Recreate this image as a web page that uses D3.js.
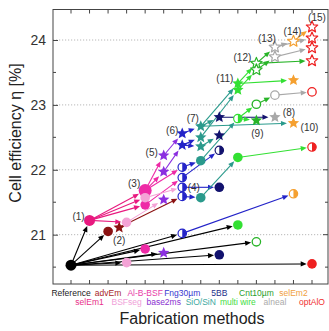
<!DOCTYPE html>
<html><head><meta charset="utf-8">
<script src="https://cdn.jsdelivr.net/npm/d3@7"></script>
<style>body{margin:0;background:#fff}svg{display:block}</style>
</head><body><script>
// Process steps along the x axis
const categories = ["Reference","selEm1","advEm","BSFseg","Al-B-BSF","base2ms","Fng30µm",
  "SiO/SiN","5BB","multi wire","Cnt10µm","alneal","selEm2","optAlO"];
const markColors = ["#000000","#e8197f","#8b1212","#f4a3d6","#ee2aa6","#8b2fe0","#2323c8",
  "#2a9a8c","#12126e","#33e033","#28b428","#a8a8a8","#f5a030","#ee2020"];
const labelColors = ["#222222","#e8308a","#a82828","#f0a0d8","#e83ca8","#8a30d0","#3838d0",
  "#40a8a0","#23308a","#44dd44","#2aa02a","#aaaaaa","#f0a040","#f03030"];
const yTicks = [21, 22, 23, 24];

// Simulated cells: [step position, efficiency %, marker, colour index]
// marker: o filled circle, O large filled circle, c open circle, h half circle, s filled star, S open star
const cells = [
  [0, 20.53, "o", 0],   // 0 reference
  [1, 21.22, "o", 1],   // 1
  [2, 21.05, "o", 2],   // 2
  [2.6, 21.11, "s", 2], // 3
  [3, 20.57, "o", 3],   // 4
  [3, 21.19, "o", 3],   // 5
  [4, 20.78, "o", 4],   // 6
  [4, 21.68, "O", 4],   // 7
  [4, 21.46, "o", 4],   // 8
  [4, 21.57, "o", 3],   // 9
  [5, 20.72, "s", 5],   // 10
  [5, 22.22, "s", 5],   // 11
  [5, 21.97, "s", 5],   // 12
  [5, 21.54, "s", 5],   // 13
  [6, 21.02, "h", 6],   // 14
  [6, 22.04, "h", 6],   // 15
  [6, 21.88, "h", 6],   // 16
  [6, 21.73, "h", 6],   // 17
  [6, 21.59, "h", 6],   // 18
  [6, 22.56, "s", 6],   // 19
  [6, 22.38, "s", 6],   // 20
  [7, 22.67, "s", 7],   // 21
  [7, 22.50, "s", 7],   // 22
  [7, 22.36, "s", 7],   // 23
  [7, 22.14, "o", 7],   // 24
  [7, 21.57, "o", 7],   // 25
  [8, 20.69, "o", 8],   // 26
  [8, 22.81, "s", 8],   // 27
  [8, 22.53, "s", 8],   // 28
  [8, 22.30, "h", 8],   // 29
  [8, 21.73, "o", 8],   // 30
  [9, 21.15, "o", 9],   // 31
  [9, 22.19, "o", 9],   // 32
  [9, 22.79, "h", 9],   // 33
  [9, 23.33, "s", 9],   // 34
  [9, 23.23, "s", 9],   // 35
  [10, 20.89, "c", 10], // 36
  [10, 23.01, "c", 10], // 37
  [10, 22.76, "s", 10], // 38
  [10, 23.64, "S", 10], // 39
  [10, 23.54, "S", 10], // 40
  [11, 23.15, "c", 11], // 41
  [11, 22.81, "s", 11], // 42
  [11, 23.89, "S", 11], // 43
  [11, 23.74, "S", 11], // 44
  [12, 21.63, "h", 12], // 45
  [12, 22.72, "s", 12], // 46
  [12, 23.38, "s", 12], // 47
  [12, 23.98, "S", 12], // 48
  [13, 20.55, "o", 13], // 49
  [13, 22.35, "h", 13], // 50
  [13, 23.20, "c", 13], // 51
  [13, 24.20, "S", 13], // 52
  [13, 24.03, "S", 13], // 53
  [13, 23.88, "S", 13], // 54
  [13, 23.68, "S", 13]  // 55
];

// Process additions: [from cell, to cell]
const steps = [
  [0,1],[0,2],[0,4],[0,6],[0,10],[0,14],[0,26],[0,31],[0,36],[0,49],
  [1,5],[1,7],[1,8],[1,9],[2,3],[3,18],[5,13],
  [7,11],[7,12],[7,15],[8,16],[9,17],[11,19],[12,20],
  [14,45],[15,24],[16,29],[17,30],[18,25],
  [19,21],[20,22],[20,23],[21,34],[21,46],[21,27],[22,35],[23,28],
  [24,33],[25,32],[27,42],[32,50],[33,37],[33,38],
  [34,39],[34,47],[35,40],[37,41],[39,43],[39,55],[40,44],[41,51],
  [43,48],[43,53],[44,54],[48,52]
];

// Numbered optimisation sequence
const seqLabels = [
  [1,"(1)"],[3,"(2)"],[7,"(3)"],[25,"(4)"],[11,"(5)"],[19,"(6)"],[21,"(7)"],
  [42,"(8)"],[38,"(9)"],[46,"(10)"],[34,"(11)"],[39,"(12)"],[43,"(13)"],[48,"(14)"],[52,"(15)"]
];

const W = 329, H = 331;
const pLeft = 53, pRight = 328, pTop = 9.5, pBottom = 284;
const x = d3.scaleLinear().domain([0, 13]).range([71, 312]);
const y = d3.scaleLinear().domain([20.24, 24.47]).range([pBottom, pTop]);

const svg = d3.select("body").append("svg").attr("width", W).attr("height", H)
  .style("font-family", "'Liberation Sans', Arial, sans-serif");

// grid
svg.append("g").selectAll("line").data(yTicks).join("line")
  .attr("x1", pLeft).attr("x2", pRight)
  .attr("y1", d => y(d)).attr("y2", d => y(d))
  .attr("stroke", "#b8b8b8").attr("stroke-width", 1).attr("stroke-dasharray", "1.2,1.8");

// frame with inward ticks on all four sides
svg.append("rect").attr("x", pLeft).attr("y", pTop).attr("width", pRight - pLeft).attr("height", pBottom - pTop)
  .attr("fill", "none").attr("stroke", "#444").attr("stroke-width", 1);

const yAxisL = d3.axisLeft(y).tickValues(yTicks).tickSize(-5).tickPadding(7).tickFormat(d3.format("d"));
const gL = svg.append("g").attr("transform", `translate(${pLeft},0)`).call(yAxisL);
gL.select(".domain").remove();
gL.selectAll("line").attr("stroke", "#444");
gL.selectAll("text").attr("font-size", 14).attr("fill", "#333").attr("font-family", "'Liberation Sans', Arial, sans-serif");

const minor = [20.5, 21.5, 22.5, 23.5];
svg.append("g").selectAll("line").data(minor).join("line")
  .attr("x1", pLeft).attr("x2", pLeft + 3).attr("y1", d => y(d)).attr("y2", d => y(d)).attr("stroke", "#444");
svg.append("g").selectAll("line").data(yTicks).join("line")
  .attr("x1", pRight).attr("x2", pRight - 5).attr("y1", d => y(d)).attr("y2", d => y(d)).attr("stroke", "#444");
svg.append("g").selectAll("line").data(minor).join("line")
  .attr("x1", pRight).attr("x2", pRight - 3).attr("y1", d => y(d)).attr("y2", d => y(d)).attr("stroke", "#444");

const idx = d3.range(categories.length);
svg.append("g").selectAll("line").data(idx).join("line")
  .attr("x1", d => x(d)).attr("x2", d => x(d)).attr("y1", pBottom).attr("y2", pBottom - 4).attr("stroke", "#444");
svg.append("g").selectAll("line").data(idx).join("line")
  .attr("x1", d => x(d)).attr("x2", d => x(d)).attr("y1", pTop).attr("y2", pTop + 4).attr("stroke", "#444");

// category labels in two staggered rows
svg.append("g").selectAll("text").data(idx).join("text")
  .attr("x", d => x(d)).attr("y", d => d % 2 === 0 ? 296 : 305)
  .attr("text-anchor", "middle").attr("font-size", 8.5)
  .attr("fill", d => labelColors[d]).text(d => categories[d]);

// axis titles
svg.append("text").attr("x", 192).attr("y", 324).attr("text-anchor", "middle")
  .attr("font-size", 16).attr("fill", "#222").text("Fabrication methods");
svg.append("text").attr("transform", "translate(21,133) rotate(-90)").attr("text-anchor", "middle")
  .attr("font-size", 16).attr("fill", "#222").text("Cell efficiency η [%]");

const px = c => x(c[0]), py = c => y(c[1]);
const radius = c => c[2] === "O" ? 6.5 : (c[2] === "s" || c[2] === "S") ? 6 : (c === cells[0] || c === cells[1]) ? 5.5 : 4.8;

// arrows coloured by the starting cell
const ag = svg.append("g");
steps.forEach(([a, b]) => {
  const s = cells[a], t = cells[b];
  const x0 = px(s), y0 = py(s), x1 = px(t), y1 = py(t);
  const dx = x1 - x0, dy = y1 - y0, L = Math.hypot(dx, dy);
  const ux = dx / L, uy = dy / L;
  const gap = radius(t) + 0.5, head = 6, hw = 2.6;
  const tipX = x1 - ux * gap, tipY = y1 - uy * gap;
  const baseX = tipX - ux * head, baseY = tipY - uy * head;
  const col = markColors[s[3]];
  ag.append("line").attr("x1", x0).attr("y1", y0).attr("x2", baseX + ux).attr("y2", baseY + uy)
    .attr("stroke", col).attr("stroke-width", 1.1);
  ag.append("path")
    .attr("d", `M${tipX},${tipY}L${baseX - uy * hw},${baseY + ux * hw}L${baseX + uy * hw},${baseY - ux * hw}Z`)
    .attr("fill", col);
});

function starPath(cx, cy, R) {
  const r = R * 0.45, pts = [];
  for (let i = 0; i < 10; i++) {
    const ang = -Math.PI / 2 + i * Math.PI / 5, rr = i % 2 ? r : R;
    pts.push([cx + rr * Math.cos(ang), cy + rr * Math.sin(ang)]);
  }
  return "M" + pts.map(p => p.join(",")).join("L") + "Z";
}

// markers
const mg = svg.append("g");
cells.forEach(c => {
  const cx = px(c), cy = py(c), col = markColors[c[3]], r = radius(c);
  if (c[2] === "o" || c[2] === "O") {
    mg.append("circle").attr("cx", cx).attr("cy", cy).attr("r", r).attr("fill", col);
  } else if (c[2] === "c") {
    mg.append("circle").attr("cx", cx).attr("cy", cy).attr("r", r - 0.6).attr("fill", "#fff")
      .attr("stroke", col).attr("stroke-width", 1.3);
  } else if (c[2] === "h") {
    mg.append("circle").attr("cx", cx).attr("cy", cy).attr("r", r - 0.6).attr("fill", "#fff")
      .attr("stroke", col).attr("stroke-width", 1.2);
    mg.append("path").attr("d", `M${cx},${cy - r + 0.6}A${r - 0.6},${r - 0.6} 0 0 1 ${cx},${cy + r - 0.6}Z`)
      .attr("fill", col);
  } else if (c[2] === "s") {
    mg.append("path").attr("d", starPath(cx, cy, r)).attr("fill", col);
  } else {
    mg.append("path").attr("d", starPath(cx, cy, r)).attr("fill", "#fff")
      .attr("stroke", col).attr("stroke-width", 1.2).attr("stroke-linejoin", "round");
  }
});

// sequence numbers next to their cells
const labelShift = {
  "(1)": [-11, -4], "(2)": [0, 13], "(3)": [-11, -7], "(4)": [-7, -10], "(5)": [-12, -3],
  "(6)": [-10, -3], "(7)": [-8, -8], "(8)": [14, -5], "(9)": [1, 13], "(10)": [16, 4],
  "(11)": [-13, -5], "(12)": [-14, -6], "(13)": [-8, -9], "(14)": [-1, -10], "(15)": [5, -10]
};
svg.append("g").selectAll("text").data(seqLabels).join("text")
  .attr("x", d => px(cells[d[0]]) + labelShift[d[1]][0])
  .attr("y", d => py(cells[d[0]]) + labelShift[d[1]][1])
  .attr("text-anchor", "middle").attr("dominant-baseline", "central")
  .attr("font-size", 10).attr("fill", "#333").text(d => d[1]);
</script></body></html>
